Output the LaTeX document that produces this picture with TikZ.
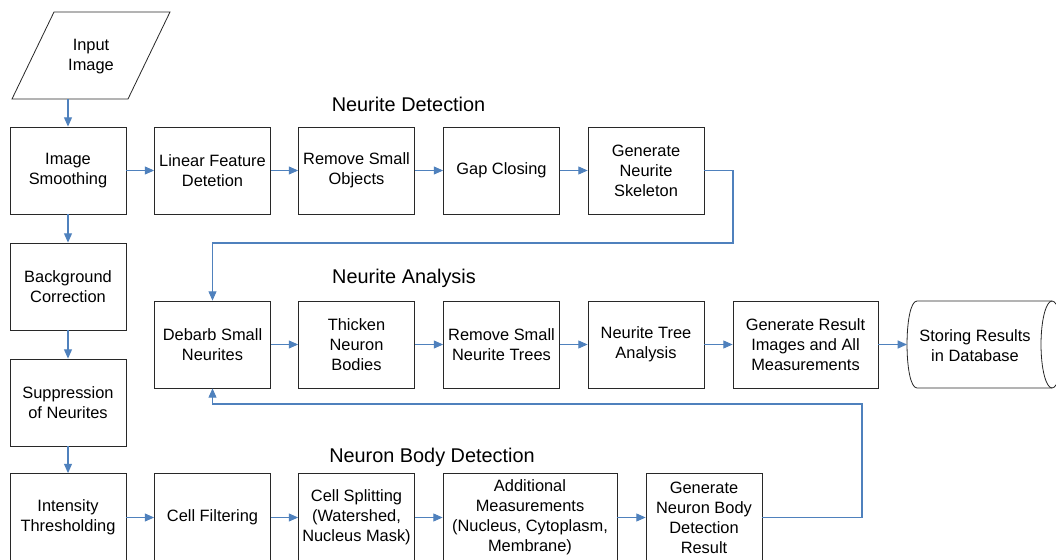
\documentclass[tikz,border=0pt]{standalone}
\usepackage{fontspec}
\setmainfont{Liberation Sans}
\usetikzlibrary{arrows.meta}
\definecolor{linkblue}{RGB}{79,129,189}
\definecolor{boxline}{RGB}{40,40,40}
\tikzset{
	stepbox/.style={draw=boxline, line width=0.6pt, minimum width=87pt, minimum height=65.25pt, inner sep=1pt, align=center, font=\fontsize{12.3}{15}\selectfont},
	plaintext/.style={inner sep=0pt, align=center, font=\fontsize{12.3}{15}\selectfont},
	stagetitle/.style={inner sep=0pt, font=\fontsize{14.9}{18}\selectfont},
	link/.style={draw=linkblue, line width=0.8pt, -{Triangle[length=7pt,width=6pt]}},
	line/.style={draw=linkblue, line width=0.8pt},
}
\begin{document}
\begin{tikzpicture}[x=0.75pt,y=-0.75pt]
					
					\clip (0,0) rectangle (1056,560);
					\fill[white] (0,0) rectangle (1056,560);
					
					% input
					\draw[boxline, line width=0.6pt] (54,12) -- (170,12) -- (128,99) -- (12,99) -- cycle;
					\node[plaintext] (inp) at (91,56.5) {Input\\Image};
					\coordinate (inbot) at (68,99);
					
					% left column
					\node[stepbox] (smooth) at (68,170.5) {Image\\Smoothing};
					\node[stepbox] (bgcorr) at (68,286.5) {Background\\Correction};
					\node[stepbox] (suppress) at (68,402.5) {Suppression\\of Neurites};
					\node[stepbox, minimum height=66pt] (thresh) at (68,517.5) {Intensity\\Thresholding};
					
					% neurite detection
					\node[stagetitle] (tdet) at (408.5,104) {Neurite Detection};
					\node[stepbox] (linfeat) at (212.5,170.5) {Linear Feature\\Detetion};
					\node[stepbox] (rmobj) at (356.5,170.5) {Remove Small\\Objects};
					\node[stepbox] (gapclose) at (501.5,170.5) {Gap Closing};
					\node[stepbox] (skel) at (646,170.5) {Generate\\Neurite\\Skeleton};
					
					% neurite analysis
					\node[stagetitle] (tana) at (404,278) {Neurite Analysis};
					\node[stepbox] (debarb) at (212.5,344.5) {Debarb Small\\Neurites};
					\node[stepbox] (thicken) at (356.5,344.5) {Thicken\\Neuron\\Bodies};
					\node[stepbox] (rmtree) at (501.5,344.5) {Remove Small\\Neurite Trees};
					\node[stepbox] (treeana) at (646,344.5) {Neurite Tree\\Analysis};
					\node[stepbox, minimum width=108.75pt] (genres) at (805.5,344.5) {Generate Result\\Images and All\\Measurements};
					
					% storage
					\draw[boxline, line width=0.6pt] (917,301) -- (1052,301) (917,388) -- (1052,388)
						(917,301) .. controls (903.7,301) and (903.7,388) .. (917,388);
					\draw[boxline, line width=0.6pt] (1052,344.5) ellipse [x radius=11, y radius=43.5];
					\node[plaintext] (store) at (975,345.5) {Storing Results\\in Database};
					\coordinate (storein) at (907,344.5);
					
					% neuron body detection
					\node[stagetitle] (tbody) at (432,457) {Neuron Body Detection};
					\node[stepbox, minimum height=66pt] (cellfilt) at (212.5,517.5) {Cell Filtering};
					\node[stepbox, minimum height=66pt] (cellsplit) at (356.5,517.5) {Cell Splitting\\(Watershed,\\Nucleus Mask)};
					\node[stepbox, minimum height=66pt, minimum width=130.5pt] (addmeas) at (530,517.5) {Additional\\Measurements\\(Nucleus, Cytoplasm,\\Membrane)};
					\node[stepbox, minimum height=66pt] (genbody) at (704,517.5) {Generate\\Neuron Body\\Detection\\Result};
					
					\coordinate (turnA) at (733,243);
					\coordinate (turnB) at (862,404);
					
					% connectors
					\draw[link] (inbot) -- (smooth.north);
					\draw[link] (smooth) -- (bgcorr);
					\draw[link] (bgcorr) -- (suppress);
					\draw[link] (suppress) -- (thresh);
					
					\draw[link] (smooth) -- (linfeat);
					\draw[link] (linfeat) -- (rmobj);
					\draw[link] (rmobj) -- (gapclose);
					\draw[link] (gapclose) -- (skel);
					\draw[link] (skel.east) -| (turnA) -| (debarb.north);
					
					\draw[link] (debarb) -- (thicken);
					\draw[link] (thicken) -- (rmtree);
					\draw[link] (rmtree) -- (treeana);
					\draw[link] (treeana) -- (genres);
					\draw[link] (genres.east) -- (storein);
					
					\draw[link] (thresh) -- (cellfilt);
					\draw[link] (cellfilt) -- (cellsplit);
					\draw[link] (cellsplit) -- (addmeas);
					\draw[link] (addmeas) -- (genbody);
					\draw[link] (genbody.east) -| (turnB) -| (debarb.south);
					
				\end{tikzpicture}
\end{document}
